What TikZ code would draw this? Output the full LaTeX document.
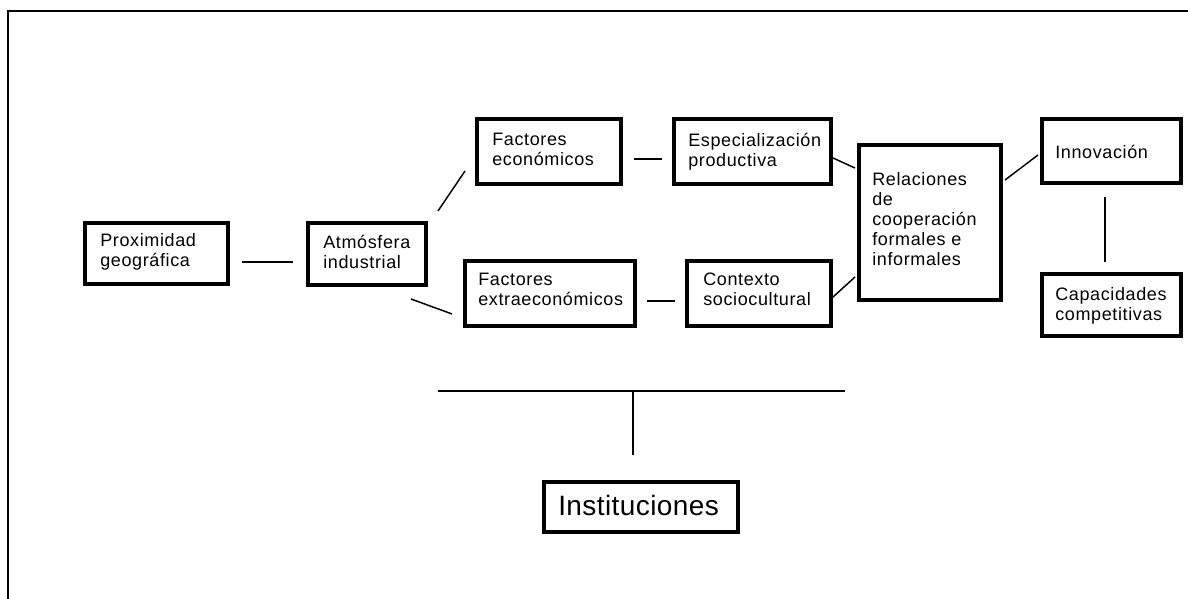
\documentclass[tikz,border=0pt]{standalone}
\usepackage{fontspec}
\setmainfont{Liberation Sans}
\newfontfamily\boxfont[LetterSpace=3.5]{Liberation Sans}
\newfontfamily\bigfont[LetterSpace=1.5]{Liberation Sans}
\usetikzlibrary{calc}
\begin{document}
\begin{tikzpicture}[x=0.75pt,y=-0.75pt,
  box/.style={draw=black,line width=3pt,inner sep=0pt,fill=white},
  txt/.style={anchor=north west,inner sep=0pt,align=left,
    font=\boxfont\fontsize{13.5pt}{15pt}\selectfont},
  conn/.style={draw=black,line width=1.1pt},
  frameline/.style={draw=black,line width=1.75pt}]
\useasboundingbox (0,0) rectangle (1188,599);
% open frame: top and left edges only
\draw[frameline] (8.3,599) -- (8.3,11) -- (1188,11);

% boxes
\node[box,minimum width=107.25pt,minimum height=45.75pt] (prox)   at (156.5,253.5) {};
\node[box,minimum width=88.5pt,  minimum height=46.5pt]  (atm)    at (367,254) {};
\node[box,minimum width=108pt,   minimum height=48.75pt] (feco)   at (549,151.5) {};
\node[box,minimum width=117.75pt,minimum height=48.75pt] (espec)  at (752.5,151.5) {};
\node[box,minimum width=127.5pt, minimum height=48.75pt] (fextra) at (550,293.5) {};
\node[box,minimum width=108pt,   minimum height=48.75pt] (ctx)    at (759,293.5) {};
\node[box,minimum width=106.5pt, minimum height=116.25pt] (rel)   at (930,222.5) {};
\node[box,minimum width=104.25pt,minimum height=48pt]    (inno)   at (1111.5,151) {};
\node[box,minimum width=104.25pt,minimum height=46.5pt]  (cap)    at (1111.5,305) {};
\node[box,minimum width=145.5pt, minimum height=37.5pt]  (inst)   at (641,507) {};

% labels
\node[txt] (proxT)   at ($(prox.north west)+(17,12)$)   {Proximidad\\geográfica};
\node[txt] (atmT)    at ($(atm.north west)+(17,14)$)    {Atmósfera\\industrial};
\node[txt] (fecoT)   at ($(feco.north west)+(17,16)$)   {Factores\\económicos};
\node[txt] (especT)  at ($(espec.north west)+(16,16)$)  {Especialización\\productiva};
\node[txt] (fextraT) at ($(fextra.north west)+(15,14)$) {Factores\\extraeconómicos};
\node[txt] (ctxT)    at ($(ctx.north west)+(18,14)$)    {Contexto\\sociocultural};
\node[txt] (relT)    at ($(rel.north west)+(15,29)$)    {Relaciones\\de\\cooperación\\formales e\\informales};
\node[txt] (innoT)   at ($(inno.north west)+(15,28)$)   {Innovación};
\node[txt] (capT)    at ($(cap.north west)+(15,15)$)    {Capacidades\\competitivas};
\node[anchor=north west,inner sep=0pt,font=\bigfont\fontsize{21pt}{24pt}\selectfont]
  (instT) at ($(inst.north west)+(16,15)$) {Instituciones};

% connectors
\draw[conn] ($(prox.east)+(12,8.5)$) -- ($(atm.west)+(-13,8)$);
\draw[conn] ($(atm.north east)+(10,-10)$) -- ($(feco.west)+(-10,19.5)$);
\draw[conn] ($(atm.south east)+(-17,12)$) -- ($(fextra.west)+(-11,20.5)$);
\draw[conn] ($(feco.east)+(11,7.5)$) -- ($(espec.west)+(-10,7.5)$);
\draw[conn] ($(fextra.east)+(10,7.5)$) -- ($(ctx.west)+(-10,7.5)$);
\draw[conn] ($(espec.east)+(0,6.5)$) -- ($(rel.west)+(-2,-54.5)$);
\draw[conn] ($(ctx.east)+(0,3.5)$) -- ($(rel.west)+(-2,54.5)$);
\draw[conn] ($(rel.east)+(2,-42.5)$) -- ($(inno.west)+(-2,4)$);
\draw[conn] ($(inno.south)+(-6.5,12)$) -- ($(cap.north)+(-6.5,-10)$);

% institutional bar
\coordinate (barL) at (438,391);
\coordinate (barR) at (845,391);
\coordinate (barM) at (633,391);
\draw[conn] (barL) -- (barR);
\draw[conn] (barM) -- ($(inst.north)+(-8,-25)$);
\end{tikzpicture}
\end{document}
